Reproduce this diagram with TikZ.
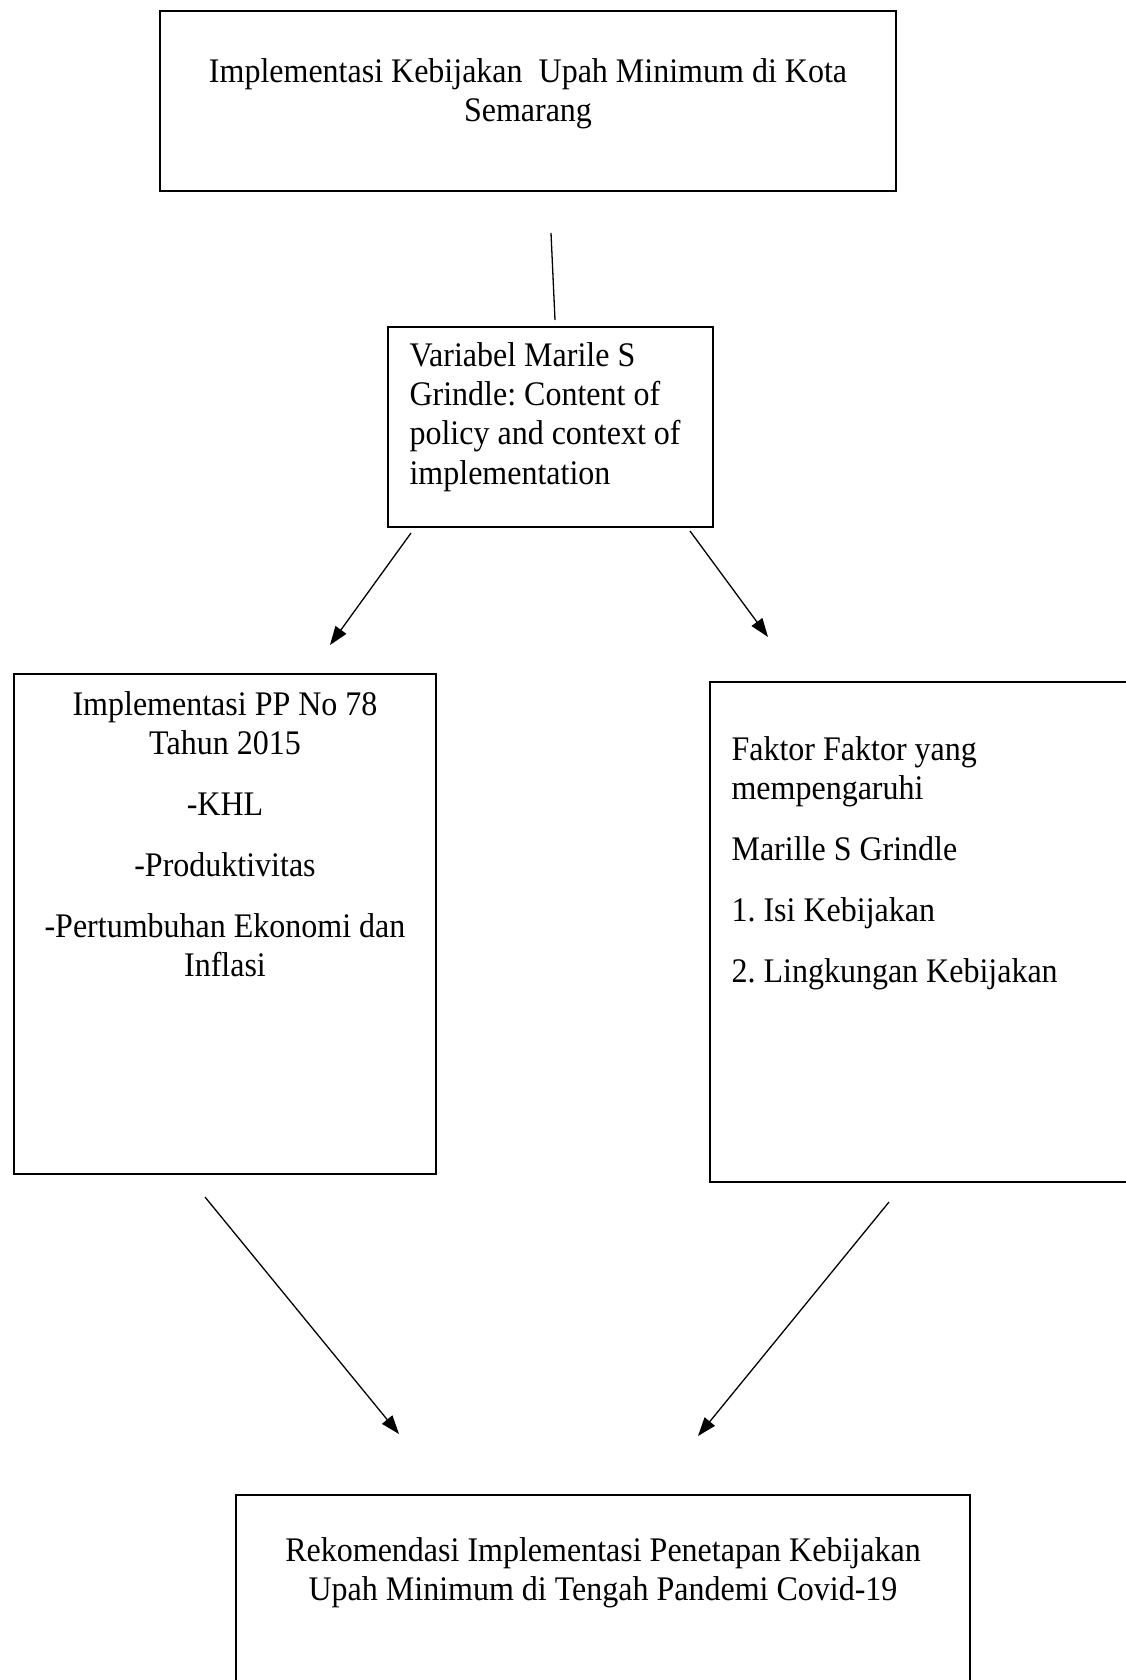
\documentclass[tikz,border=0pt]{standalone}
\usepackage{fontspec}
\setmainfont{Liberation Serif}[FakeStretch=0.928]
\usetikzlibrary{arrows.meta}
\frenchspacing
\begin{document}
\begin{tikzpicture}[x=0.348pt,y=-0.348pt,
  boxline/.style={draw=black,line width=0.9pt},
  txt/.style={inner sep=0pt,anchor=base,font=\fontsize{12}{13.8}\selectfont},
  txtl/.style={inner sep=0pt,anchor=base west,font=\fontsize{12}{13.8}\selectfont},
  conn/.style={draw=black,line width=0.45pt},
  arr/.style={conn,-{Triangle[length=6.5pt,width=4.6pt]}}]
\clip (0,0) rectangle (1126,1680);
\fill[white] (0,0) rectangle (1126,1680);
% boxes
\draw[boxline] (160,11) rectangle (896,191);
\draw[boxline] (388,327) rectangle (713,527);
\draw[boxline] (14,674) rectangle (436,1174);
\draw[boxline] (710,682) rectangle (1160,1182);
\draw[boxline] (236,1495) rectangle (970,1720);
% top box text
\node[txt] (t1a) at (528,82) {Implementasi Kebijakan\ \ Upah Minimum di Kota};
\node[txt] (t1b) at (528,121.5) {Semarang};
% variabel box
\node[txtl] (t2a) at (409,366) {Variabel Marile S};
\node[txtl] (t2b) at (409,405) {Grindle: Content of};
\node[txtl] (t2c) at (409,444.5) {policy and context of};
\node[txtl] (t2d) at (409,484) {implementation};
% left box
\node[txt] (t3a) at (225,715) {Implementasi PP No 78};
\node[txt] (t3b) at (225,754) {Tahun 2015};
\node[txt] (t3c) at (225,815) {-KHL};
\node[txt] (t3d) at (225,876) {-Produktivitas};
\node[txt] (t3e) at (225,937.5) {-Pertumbuhan Ekonomi dan};
\node[txt] (t3f) at (225,976.5) {Inflasi};
% right box
\node[txtl] (t4a) at (731,760) {Faktor Faktor yang};
\node[txtl] (t4b) at (731,799) {mempengaruhi};
\node[txtl] (t4c) at (731,860) {Marille S Grindle};
\node[txtl] (t4d) at (731,921) {1. Isi Kebijakan};
\node[txtl] (t4e) at (731,982) {2. Lingkungan Kebijakan};
% bottom box
\node[txt] (t5a) at (603,1561) {Rekomendasi Implementasi Penetapan Kebijakan};
\node[txt] (t5b) at (603,1600) {Upah Minimum di Tengah Pandemi Covid-19};
% connector end points
\coordinate (c0s) at (551,233);
\coordinate (c0e) at (555,320);
\coordinate (c1s) at (411,533);
\coordinate (c1e) at (330,645);
\coordinate (c2s) at (690,531);
\coordinate (c2e) at (768,637);
\coordinate (c3s) at (205,1197);
\coordinate (c3e) at (399,1434);
\coordinate (c4s) at (889,1202);
\coordinate (c4e) at (698,1436);
\draw[conn] (c0s) -- (c0e);
\draw[arr] (c1s) -- (c1e);
\draw[arr] (c2s) -- (c2e);
\draw[arr] (c3s) -- (c3e);
\draw[arr] (c4s) -- (c4e);
\end{tikzpicture}
\end{document}
